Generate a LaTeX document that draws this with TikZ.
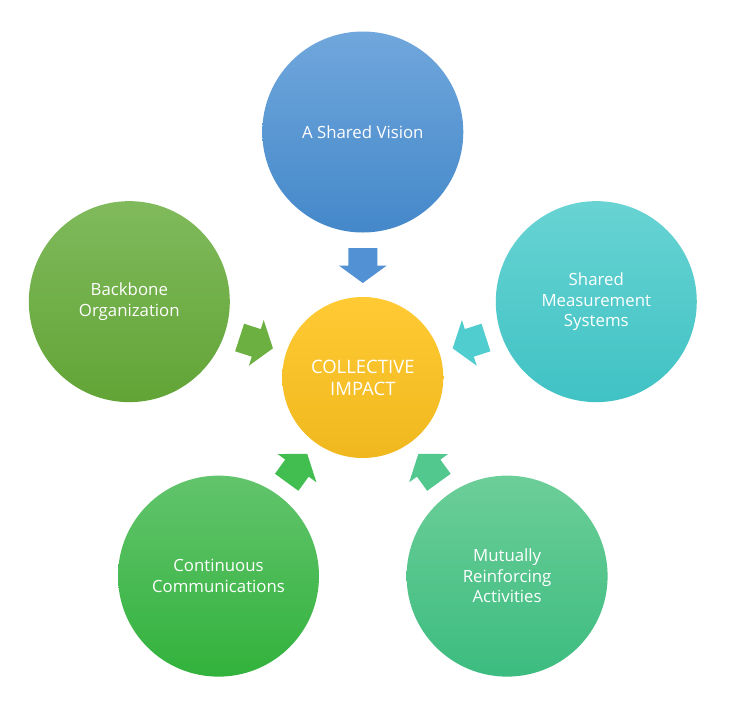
\documentclass[tikz,border=0pt]{standalone}
\usepackage{fontspec}
\setmainfont{Open Sans}
\usetikzlibrary{calc}
\definecolor{bluetop}{RGB}{112,167,220}
\definecolor{bluebot}{RGB}{68,136,202}
\definecolor{bluearr}{RGB}{82,146,212}
\definecolor{lgtop}{RGB}{128,186,92}
\definecolor{lgbot}{RGB}{98,164,54}
\definecolor{lgarr}{RGB}{108,176,66}
\definecolor{cytop}{RGB}{104,211,211}
\definecolor{cybot}{RGB}{64,194,196}
\definecolor{cyarr}{RGB}{80,205,206}
\definecolor{bgtop}{RGB}{98,196,108}
\definecolor{bgbot}{RGB}{50,178,60}
\definecolor{bgarr}{RGB}{66,190,80}
\definecolor{brtop}{RGB}{108,206,152}
\definecolor{brbot}{RGB}{60,188,128}
\definecolor{brarr}{RGB}{82,200,142}
\definecolor{yetop}{RGB}{255,202,52}
\definecolor{yebot}{RGB}{240,184,30}
\tikzset{
  bubble/.style={circle, minimum size=201pt, inner sep=0pt, text=white,
    align=center, font=\fontsize{16.8}{20.5}\selectfont},
  hub/.style={circle, minimum size=161pt, inner sep=0pt, text=white,
    align=center, font=\fontsize{18.5}{22}\selectfont, top color=yetop, bottom color=yebot},
}
\begin{document}
\begin{tikzpicture}[x=1pt,y=1pt]
\useasboundingbox (0,0) rectangle (736,-705);
\fill[white] (0,0) rectangle (736,-705);
\coordinate (C) at (362.8,-377.5);
\node[hub] (hub) at (C) {COLLECTIVE\\IMPACT};
\node[bubble, top color=bluetop, bottom color=bluebot] (vision) at ($(C)+(90:245.5)$) {A Shared Vision};
\node[bubble, top color=lgtop, bottom color=lgbot] (backbone) at ($(C)+(162:245.5)$) {Backbone\\Organization};
\node[bubble, top color=cytop, bottom color=cybot] (measure) at ($(C)+(18:245.5)$) {Shared\\Measurement\\Systems};
\node[bubble, top color=bgtop, bottom color=bgbot] (comm) at ($(C)+(234:245.5)$) {Continuous\\Communications};
\node[bubble, top color=brtop, bottom color=brbot] (mutual) at ($(C)+(306:245.5)$) {Mutually\\Reinforcing\\Activities};
\foreach \a/\c/\n in {90/bluearr/av, 162/lgarr/ab, 18/cyarr/am, 234/bgarr/ac, 306/brarr/ar}{
  \coordinate (\n) at ($(C)+(\a:112)$);
  \pgfmathsetmacro{\r}{\a+180}
  \fill[\c, shift={(\n)}, rotate=\r]
    (-17.5,-14.5) -- (0,-14.5) -- (0,-24) -- (17.5,0) -- (0,24) -- (0,14.5) -- (-17.5,14.5) -- cycle;
}
\end{tikzpicture}
\end{document}
